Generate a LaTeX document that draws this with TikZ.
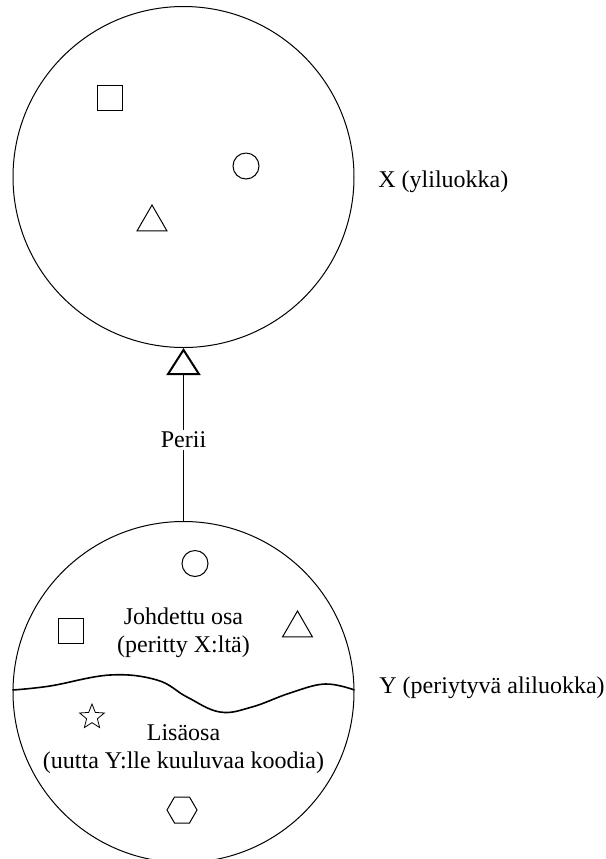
\documentclass[tikz,border=0pt]{standalone}
\usepackage{fontspec}
\setmainfont{Liberation Serif}
\usepackage{tikz}
\usetikzlibrary{arrows.meta,positioning,shapes.geometric}

\tikzset{
  every node/.style={font=\fontsize{12}{14}\selectfont},
  luokka/.style={draw, circle, minimum size=170.5pt, inner sep=0pt, line width=0.5pt},
  nimi/.style={anchor=west, inner sep=0pt},
  sq/.style={draw, rectangle, minimum size=12.5pt, inner sep=0pt, line width=0.5pt},
  ci/.style={draw, circle, minimum size=13pt, inner sep=0pt, line width=0.5pt},
  tri/.style={draw, regular polygon, regular polygon sides=3, minimum size=17.3pt, inner sep=0pt, line width=0.5pt},
  hexa/.style={draw, regular polygon, regular polygon sides=6, minimum size=15pt, inner sep=0pt, line width=0.5pt},
  tahti/.style={draw, star, star points=5, star point ratio=2.3, minimum size=13pt, inner sep=0pt, line width=0.4pt}
}

\begin{document}
\begin{tikzpicture}[x=0.5pt, y=-0.5pt]
    \useasboundingbox (0,0) rectangle (606,859);
    % Superclass
    \node[luokka] (X) at (183.5,177) {};
    \node[sq]  (xsq)  at (109.5,98) {};
    \node[ci]  (xci)  at (246,166) {};
    \node[tri] (xtri) at (152,222.3) {};
    \node[nimi] (xlab) at (378,182) {X (yliluokka)};
    % Subclass
    \node[luokka] (Y) at (183.5,692) {};
    \node[ci]  (yci)  at (195,563.5) {};
    \node[sq]  (ysq)  at (71,631) {};
    \node[tri] (ytri) at (297.5,628.3) {};
    \node[align=center] (johd) at (183.5,633) {Johdettu osa\\(peritty X:ltä)};
    \node[tahti] (yst) at (92,717) {};
    \node[align=center] (lisa) at (183.5,749) {Lisäosa\\(uutta Y:lle kuuluvaa koodia)};
    \node[hexa] (yhex) at (182,810) {};
    \node[nimi] (ylab) at (379,688) {Y (periytyvä aliluokka)};
    % Border between the two parts
    \draw[line width=0.8pt] plot[smooth, tension=0.65] coordinates {
      (12.5,690) (50,686) (110,675) (157,680) (187,697) (220,712)
      (252,707) (290,693) (325,684) (354.5,690)};
    % Inheritance
    \draw[line width=0.6pt, -{Triangle[open, length=13.5pt, width=17pt, line width=1pt]}]
      (Y.north) -- node[pos=0.47, fill=white, inner sep=1pt] (perii) {Perii} (X.south);
\end{tikzpicture}
\end{document}
